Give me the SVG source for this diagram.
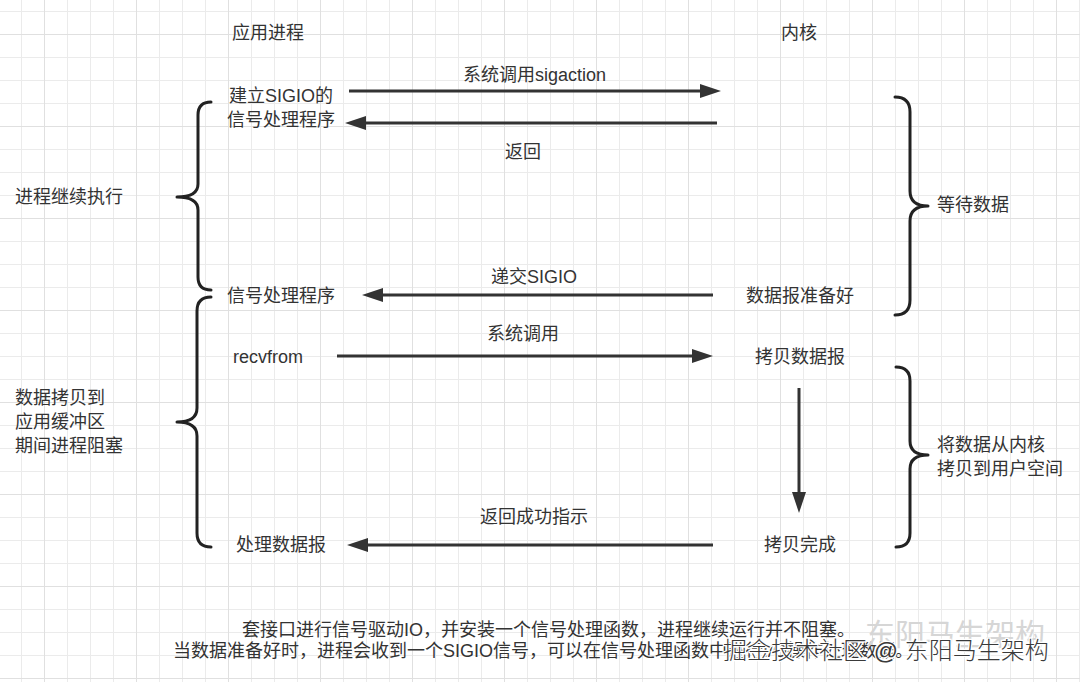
<svg xmlns="http://www.w3.org/2000/svg" width="1080" height="682" viewBox="0 0 1080 682">
<defs>
<style>
text{font-family:"Liberation Sans","Noto Sans CJK SC",sans-serif;font-size:18px;fill:#333}
.mid{text-anchor:middle}
.brace{fill:none;stroke:#222;stroke-width:3;stroke-linecap:round;stroke-linejoin:round}
.arr{fill:none;stroke:#333;stroke-width:3;marker-end:url(#ah)}
.wm{font-size:24px;fill:#3a3a3a;stroke:#fff;stroke-width:2.5;paint-order:stroke;font-weight:300}
.wm2{font-size:30px;fill:#d6d6d6}
</style>
<marker id="ah" markerUnits="userSpaceOnUse" markerWidth="22" markerHeight="14" refX="6" refY="7" orient="auto">
<path d="M0,0 L21,7 L0,14 z" fill="#333"/>
</marker>
<pattern id="gminor" patternUnits="userSpaceOnUse" x="21" y="11" width="23" height="23">
<path d="M0.5,0 V23 M0,0.5 H23" stroke="#ebebeb" stroke-width="1" fill="none"/>
</pattern>
<pattern id="gmajor" patternUnits="userSpaceOnUse" x="44" y="34" width="92" height="92">
<path d="M0.5,0 V92 M0,0.5 H92" stroke="#e0e0e0" stroke-width="1" fill="none"/>
</pattern>
</defs>
<rect width="1080" height="682" fill="#fff"/>
<rect width="1080" height="682" fill="url(#gminor)"/>
<rect width="1080" height="682" fill="url(#gmajor)"/>

<g id="headers">
<text x="232" y="39">应用进程</text>
<text x="781" y="39">内核</text>
</g>

<g id="braces">
<path class="brace" d="M211,102 Q198,102 198,115 L198,184 Q198,197 177,197 Q198,197 198,210 L198,277 Q198,290 211,290"/>
<path class="brace" d="M211,297 Q197,297 197,311 L197,408 Q197,422 177,422 Q197,422 197,436 L197,533 Q197,547 211,547"/>
<path class="brace" d="M895,97 Q910,97 910,112 L910,191 Q910,206 928,206 Q910,206 910,221 L910,300 Q910,315 895,315"/>
<path class="brace" d="M896,367 Q910,367 910,381 L910,441 Q910,455 928,455 Q910,455 910,469 L910,533 Q910,547 896,547"/>
</g>

<g id="connectors">
<line class="arr" x1="349" y1="91" x2="706" y2="91"/>
<line class="arr" x1="717" y1="123" x2="360" y2="123"/>
<line class="arr" x1="713" y1="295" x2="377" y2="295"/>
<line class="arr" x1="337" y1="356" x2="698" y2="356"/>
<line class="arr" x1="713" y1="545" x2="362" y2="545"/>
<line class="arr" x1="799" y1="388" x2="799" y2="498"/>
</g>

<g id="edge-labels">
<text x="463" y="81">系统调用sigaction</text>
<text x="505" y="158">返回</text>
<text x="491" y="283">递交SIGIO</text>
<text x="487" y="340">系统调用</text>
<text x="480" y="523">返回成功指示</text>
</g>

<g id="node-setup">
<text x="229" y="102">建立SIGIO的</text>
<text x="227" y="126">信号处理程序</text>
</g>
<g id="node-handler">
<text x="227" y="302">信号处理程序</text>
</g>
<g id="node-recvfrom">
<text x="233" y="363">recvfrom</text>
</g>
<g id="node-process">
<text x="236" y="551">处理数据报</text>
</g>
<g id="node-ready">
<text x="746" y="302">数据报准备好</text>
</g>
<g id="node-copy">
<text x="755" y="363">拷贝数据报</text>
</g>
<g id="node-done">
<text x="764" y="551">拷贝完成</text>
</g>

<g id="side-labels">
<text x="15" y="203">进程继续执行</text>
<text x="15" y="404">数据拷贝到</text>
<text x="15" y="428">应用缓冲区</text>
<text x="15" y="452">期间进程阻塞</text>
<text x="937" y="211">等待数据</text>
<text x="937" y="451">将数据从内核</text>
<text x="937" y="475">拷贝到用户空间</text>
</g>

<g id="caption">
<text x="242" y="636">套接口进行信号驱动IO，并安装一个信号处理函数，进程继续运行并不阻塞。</text>
<text x="173" y="657">当数据准备好时，进程会收到一个SIGIO信号，可以在信号处理函数中进行I/O操作处理数据。</text>
</g>

<g id="watermark">
<text class="wm2" x="865" y="645">东阳马生架构</text>
<text class="wm" x="723" y="659">掘金技术社区 @ 东阳马生架构</text>
</g>
</svg>
